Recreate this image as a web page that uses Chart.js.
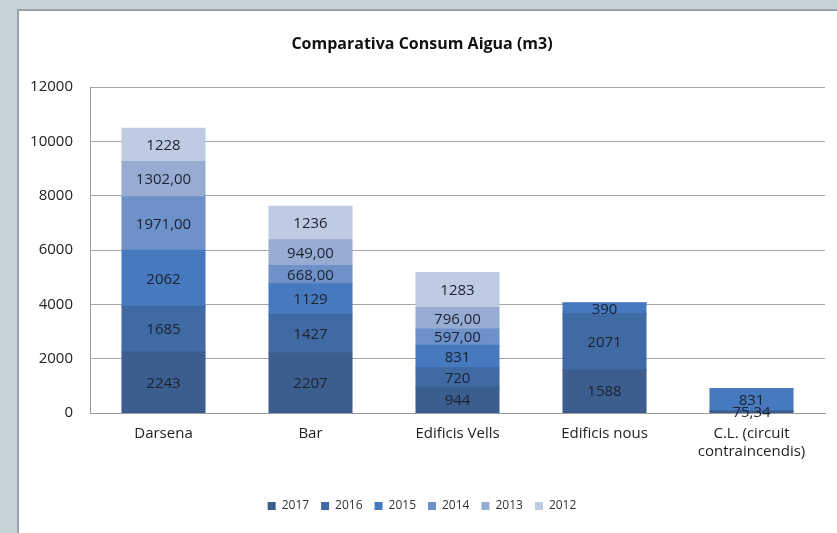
<!DOCTYPE html>
<html>
<head>
<meta charset="utf-8">
<script src="https://cdn.jsdelivr.net/npm/chart.js@4/dist/chart.umd.min.js"></script>
<style>
  html, body { margin: 0; padding: 0; }
  body { width: 837px; height: 533px; background: #c7d2d8; position: relative; overflow: hidden; }
  #panel { position: absolute; left: 17px; top: 9px; width: 820px; height: 524px;
           background: #fff; border-left: 2px solid #9aa3a8; border-top: 2px solid #9aa3a8; }
  #chart { position: absolute; left: 0; top: 0; }
</style>
</head>
<body>
<div id="panel"><canvas id="chart" width="818" height="522"></canvas></div>
<script>
// *** data for display ***
const CATEGORIES = ["Darsena", "Bar", "Edificis Vells", "Edificis nous", ["C.L. (circuit", "contraincendis)"]];
const YEARS = ["2017", "2016", "2015", "2014", "2013", "2012"];
const V2017 = [2243, 2207, 944, 1588, 75.34];
const V2016 = [1685, 1427, 720, 2071, 0];
const V2015 = [2062, 1129, 831, 390, 831];
const V2014 = [1971, 668, 597, 0, 0];
const V2013 = [1302, 949, 796, 0, 0];
const V2012 = [1228, 1236, 1283, 0, 0];
const Y_TICKS = [0, 2000, 4000, 6000, 8000, 10000, 12000];

const COLORS = ["#3b5e8e", "#3f6aa4", "#4679bd", "#6d91c8", "#98acd3", "#bfcbe2"];
// 2014 & 2013 were typed with two decimals in the source sheet
const DECIMAL_YEARS = ["2014", "2013"];

const FONT = "'Open Sans', 'Noto Sans', sans-serif";

function fmt(v, year) {
    if (DECIMAL_YEARS.indexOf(year) >= 0) return v.toFixed(2).replace(".", ",");
    if (!Number.isInteger(v)) return String(v).replace(".", ",");
    return String(v);
}

// *** segment labels ***
const segLabels = {
    id: "segLabels",
    afterDatasetsDraw(chart) {
        const ctx = chart.ctx;
        ctx.save();
        ctx.font = "15px " + FONT;
        ctx.fillStyle = "#1b2230";
        ctx.textAlign = "center";
        ctx.textBaseline = "middle";
        chart.data.datasets.forEach((ds, i) => {
            const meta = chart.getDatasetMeta(i);
            meta.data.forEach((bar, j) => {
                const v = ds.data[j];
                if (!v) return;
                ctx.fillText(fmt(v, ds.label), bar.x, (bar.y + bar.base) / 2 + 1);
            });
        });
        ctx.restore();
    }
};

const SERIES = [V2017, V2016, V2015, V2014, V2013, V2012];
const DATA_SETS = YEARS.map((y, i) => ({
    label: y,
    data: SERIES[i],
    backgroundColor: COLORS[i],
    borderColor: COLORS[i],
    borderWidth: 0,
    inflateAmount: 0.5,
    barPercentage: 0.565,
    categoryPercentage: 1.0
}));

const ctx = document.getElementById("chart").getContext("2d");
new Chart(ctx, {
    type: "bar",
    data: { labels: CATEGORIES, datasets: DATA_SETS },
    plugins: [segLabels],
    options: {
        responsive: false,
        animation: false,
        layout: { padding: { left: 0, right: 12, top: 0, bottom: 11 } },
        plugins: {
            title: {
                display: true,
                text: "Comparativa Consum Aigua (m3)",
                color: "#111",
                font: { family: FONT, size: 16, weight: "bold" },
                padding: { top: 24, bottom: 33 }
            },
            legend: {
                position: "bottom",
                labels: {
                    boxWidth: 8, boxHeight: 8, padding: 12,
                    color: "#333",
                    font: { family: FONT, size: 12 }
                }
            },
            tooltip: { enabled: false }
        },
        scales: {
            x: {
                stacked: true,
                grid: { display: false, drawTicks: false },
                border: { color: "#9a9a9a" },
                ticks: { color: "#222", padding: 12, font: { family: FONT, size: 15 }, maxRotation: 0 },
                afterFit(scale) { scale.height = 75; }
            },
            y: {
                stacked: true,
                min: 0, max: 12000,
                afterBuildTicks(scale) { scale.ticks = Y_TICKS.map(v => ({ value: v })); },
                grid: { color: "#a6a6a6", drawTicks: false },
                border: { color: "#9a9a9a" },
                ticks: { color: "#222", padding: 17, font: { family: FONT, size: 15 },
                         callback: v => String(v) },
                afterFit(scale) { scale.width = 71; }
            }
        }
    }
});
</script>
</body>
</html>
